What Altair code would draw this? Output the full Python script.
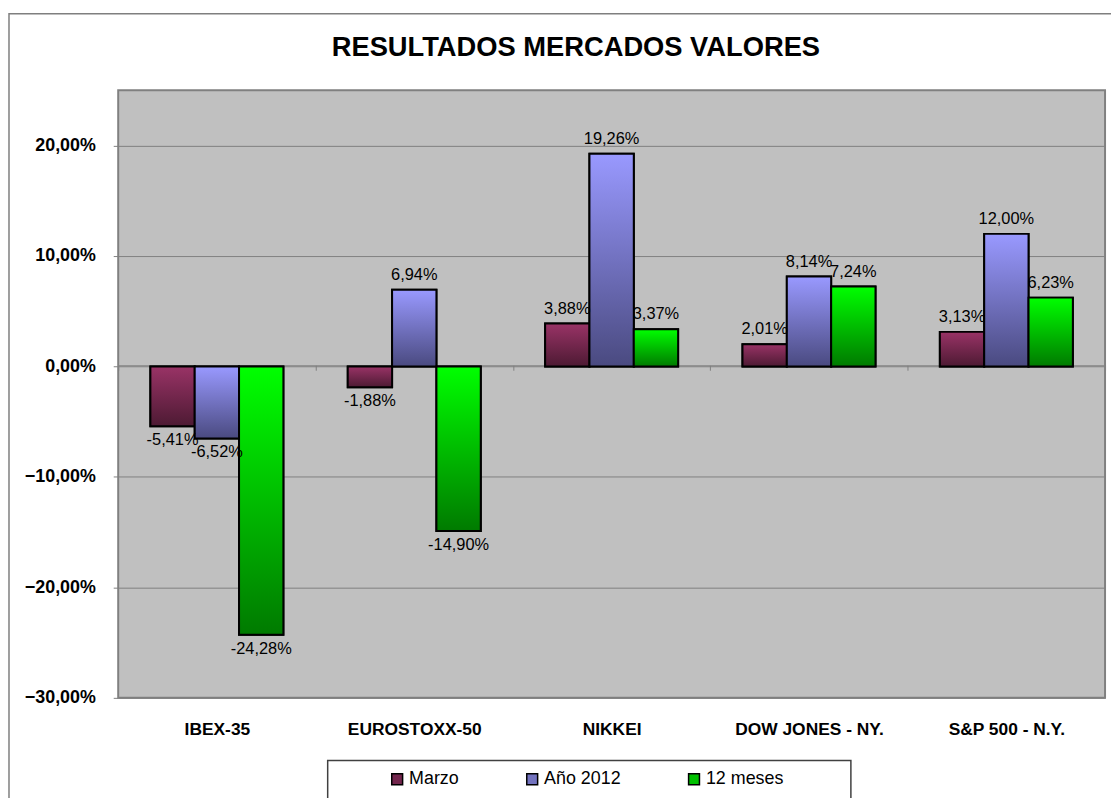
import altair as alt
import pandas as pd

titulo = "RESULTADOS MERCADOS VALORES"
mercados = ["IBEX-35", "EUROSTOXX-50", "NIKKEI", "DOW JONES - NY.", "S&P 500 - N.Y."]
series = ["Marzo", "Año 2012", "12 meses"]
marzo = [-5.41, -1.88, 3.88, 2.01, 3.13]
anio_2012 = [-6.52, 6.94, 19.26, 8.14, 12.00]
doce_meses = [-24.28, -14.90, 3.37, 7.24, 6.23]
y_ticks = [-30, -20, -10, 0, 10, 20]

rows = []
for s, vals in zip(series, [marzo, anio_2012, doce_meses]):
    for m, v in zip(mercados, vals):
        rows.append({"Mercado": m, "Serie": s, "Valor": v,
                     "Etiqueta": f"{v:.2f}".replace(".", ",") + "%"})
df = pd.DataFrame(rows)

FONT = "Liberation Sans"
top_colors = ["#993366", "#9999ff", "#00ff00"]
bottom_colors = ["#4d1a33", "#4a4a80", "#007a00"]
legend_colors = ["#73264d", "#7373bf", "#00c000"]

x_enc = alt.X("Mercado:N", sort=mercados, title=None,
              scale=alt.Scale(paddingInner=0, paddingOuter=0),
              axis=alt.Axis(orient="bottom", offset=-335, labelAngle=0,
                            labelPadding=353, tickBand="extent", tickSize=5,
                            tickColor="#808080", domainColor="#808080",
                            labelFont=FONT, labelFontSize=17.5, labelFontWeight="bold",
                            labelColor="black"))
xo_enc = alt.XOffset("Serie:N", sort=series,
                     scale=alt.Scale(domain=series, paddingOuter=0.726, paddingInner=0))
y_enc = alt.Y("Valor:Q", title=None,
              scale=alt.Scale(domain=[-30, 25], nice=False, zero=True),
              axis=alt.Axis(values=y_ticks, domain=False, tickSize=5, tickColor="#808080",
                            grid=True, gridColor="#808080", gridWidth=1,
                            labelPadding=18, labelFont=FONT, labelFontSize=18,
                            labelFontWeight="bold", labelColor="black",
                            labelExpr="replace(format(datum.value, '.2f'), '.', ',') + '%'"))

base = alt.Chart(df).encode(x=x_enc, xOffset=xo_enc, y=y_enc)

legend_layer = base.mark_bar(stroke="black", strokeWidth=2).encode(
    color=alt.Color("Serie:N", sort=series,
                    scale=alt.Scale(domain=series, range=legend_colors),
                    legend=alt.Legend(orient="none", legendX=272, legendY=685,
                                      direction="horizontal", title=None,
                                      symbolType="square", symbolSize=120,
                                      symbolStrokeColor="black", symbolStrokeWidth=1.5,
                                      labelFont=FONT, labelFontSize=18, labelColor="black",
                                      labelOffset=3, columnPadding=64, padding=0))
)

grad_layers = []
for s, tc, bc in zip(series, top_colors, bottom_colors):
    grad = alt.Gradient(gradient="linear",
                        stops=[alt.GradientStop(color=tc, offset=0),
                               alt.GradientStop(color=bc, offset=1)],
                        x1=0, x2=0, y1=0, y2=1)
    grad_layers.append(
        base.transform_filter(alt.datum.Serie == s)
        .mark_bar(color=grad, stroke="black", strokeWidth=2)
    )

pos_text = base.transform_filter(alt.datum.Valor >= 0).mark_text(
    baseline="bottom", dy=-7, font=FONT, fontSize=16.5, color="black"
).encode(text="Etiqueta:N")
neg_text = base.transform_filter(alt.datum.Valor < 0).mark_text(
    baseline="top", dy=6, font=FONT, fontSize=16.5, color="black"
).encode(text="Etiqueta:N")

deco = pd.DataFrame({"k": [0]})
outer_box = alt.Chart(deco).mark_rect(fillOpacity=0, stroke="#7f7f7f", strokeWidth=1.5).encode(
    x=alt.value(-110), x2=alt.value(1010), y=alt.value(-77), y2=alt.value(730))
legend_box = alt.Chart(deco).mark_rect(fillOpacity=0, stroke="#404040", strokeWidth=1.5).encode(
    x=alt.value(211), x2=alt.value(738), y=alt.value(675), y2=alt.value(730))
title_text = alt.Chart(deco).mark_text(
    text=titulo, font=FONT, fontSize=27.5, fontWeight="bold", color="black",
    align="center", baseline="middle"
).encode(x=alt.value(461), y=alt.value(-43))

chart = alt.layer(outer_box, legend_layer, *grad_layers, pos_text, neg_text,
                  legend_box, title_text).properties(
    width=994, height=612,
    autosize=alt.AutoSizeParams(type="none"),
    padding={"left": 111, "top": 80, "right": 6, "bottom": 98},
    background="white",
).configure_view(fill="#c0c0c0", stroke="#808080", strokeWidth=2)

chart.save("out.html", embed_options={"renderer": "svg", "actions": False})
